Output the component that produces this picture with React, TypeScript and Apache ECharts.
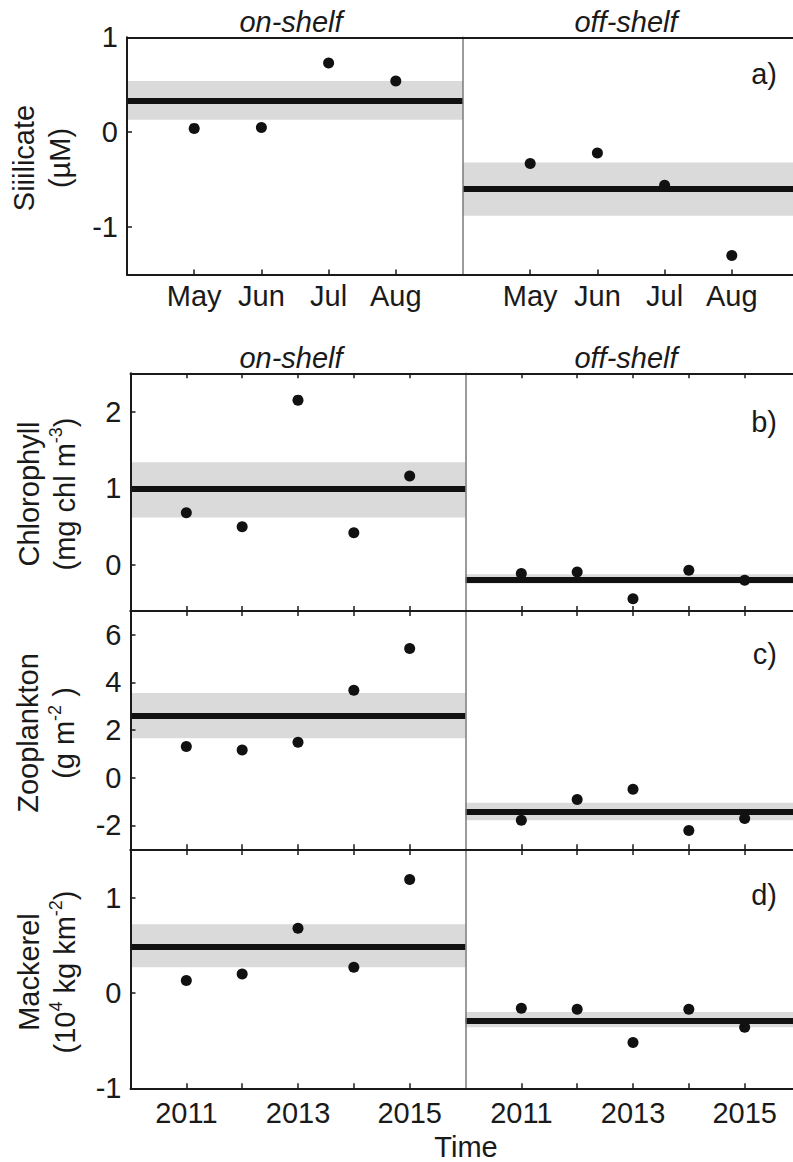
import React, { useEffect, useRef } from 'react';
import * as echarts from 'echarts';

// ---------- data ----------
const months = ['May', 'Jun', 'Jul', 'Aug'];
const monthPos = [1, 2, 3, 4];
const years = [2011, 2012, 2013, 2014, 2015];
const yearLabels = [2011, 2013, 2015];

const silicateOn = [0.04, 0.05, 0.73, 0.54];
const silicateOff = [-0.33, -0.22, -0.56, -1.30];
const silicateMean = [0.33, -0.60];
const silicateBandOn = [0.13, 0.54];
const silicateBandOff = [-0.88, -0.32];

const chlOn = [0.68, 0.50, 2.15, 0.42, 1.16];
const chlOff = [-0.11, -0.09, -0.44, -0.07, -0.20];
const chlMean = [0.99, -0.19];
const chlBandOn = [0.62, 1.34];
const chlBandOff = [-0.24, -0.12];

const zooOn = [1.31, 1.17, 1.49, 3.67, 5.43];
const zooOff = [-1.78, -0.91, -0.48, -2.21, -1.71];
const zooMean = [2.62, -1.41];
const zooBandOn = [1.66, 3.56];
const zooBandOff = [-1.78, -1.05];

const mackOn = [0.13, 0.20, 0.68, 0.27, 1.19];
const mackOff = [-0.16, -0.17, -0.52, -0.17, -0.36];
const mackMean = [0.49, -0.29];
const mackBandOn = [0.27, 0.72];
const mackBandOff = [-0.36, -0.20];

const yTicksA = [-1, 0, 1];
const yTicksB = [0, 1, 2];
const yTicksC = [-2, 0, 2, 4, 6];
const yTicksD = [-1, 0, 1];

const FONT = "'Liberation Sans', Arial, Helvetica, sans-serif";
const FS = 29;

type Panel = {
  kind: 'month' | 'year';
  left: number; width: number; top: number; height: number;
  yMin: number; yMax: number; yTicks: number[];
  on: number[]; off: number[]; mean: number[]; bandOn: number[]; bandOff: number[];
  letter: string; letterY: number;
  showX: boolean; xMargin: number;
  showTitle: boolean;
  title: string;
  titleX: number;
  titleCenter: number;
};

const panels: Panel[] = [
  { kind: 'month', left: 127, width: 336, top: 37.3, height: 237.2, yMin: -1.5, yMax: 1, yTicks: yTicksA,
    on: silicateOn, off: silicateOff, mean: silicateMean, bandOn: silicateBandOn, bandOff: silicateBandOff,
    letter: 'a)', letterY: 74, showX: true, xMargin: 7, showTitle: true,
    title: '{t|Siiilicate}\n{t|(µM)}', titleX: 42, titleCenter: 158 },
  { kind: 'year', left: 130.5, width: 335, top: 373.3, height: 237.7, yMin: -0.6, yMax: 2.5, yTicks: yTicksB,
    on: chlOn, off: chlOff, mean: chlMean, bandOn: chlBandOn, bandOff: chlBandOff,
    letter: 'b)', letterY: 422, showX: false, xMargin: 8, showTitle: true,
    title: '{t|Chlorophyll}\n{t|(mg chl m}{s|-3}{t|)}', titleX: 47, titleCenter: 494 },
  { kind: 'year', left: 130.5, width: 335, top: 611, height: 238.3, yMin: -3, yMax: 7, yTicks: yTicksC,
    on: zooOn, off: zooOff, mean: zooMean, bandOn: zooBandOn, bandOff: zooBandOff,
    letter: 'c)', letterY: 654, showX: false, xMargin: 8, showTitle: false,
    title: '{t|Zooplankton}\n{t|(g m}{s|-2}{t| )}', titleX: 46, titleCenter: 733 },
  { kind: 'year', left: 130.5, width: 335, top: 850, height: 238.3, yMin: -1, yMax: 1.5, yTicks: yTicksD,
    on: mackOn, off: mackOff, mean: mackMean, bandOn: mackBandOn, bandOff: mackBandOff,
    letter: 'd)', letterY: 895, showX: true, xMargin: 10, showTitle: false,
    title: '{t|Mackerel}\n{t|(10}{s|4}{t| kg km}{s|-2}{t|)}', titleX: 47, titleCenter: 972 },
];

export default function App() {
  const ref = useRef<HTMLDivElement>(null);

  useEffect(() => {
    if (!ref.current) return;
    const chart = echarts.init(ref.current, null, { renderer: 'svg' });

    const grids: any[] = [];
    const xAxes: any[] = [];
    const yAxes: any[] = [];
    const series: any[] = [];
    const graphics: any[] = [];

    panels.forEach((p) => {
      [0, 1].forEach((side) => {
        const gi = grids.length;
        grids.push({ left: p.left + side * p.width, top: p.top, width: p.width, height: p.height });
        const isMonth = p.kind === 'month';
        const tickVals = isMonth ? monthPos : years;
        const base = {
          type: 'value', gridIndex: gi, min: isMonth ? 0 : 2010, max: isMonth ? 5 : 2016,
          z: 10, splitLine: { show: false },
          axisLine: { onZero: false, lineStyle: { color: '#1a1a1a', width: 2 } },
        };
        xAxes.push({
          ...base, position: 'bottom',
          axisTick: { show: true, inside: true, length: 5, customValues: tickVals, lineStyle: { color: '#1a1a1a', width: 1.5 } },
          axisLabel: {
            show: p.showX, margin: p.xMargin, fontSize: FS, fontFamily: FONT, color: '#1a1a1a',
            customValues: isMonth ? monthPos : yearLabels,
            formatter: (v: number) => (isMonth ? months[monthPos.indexOf(v)] || '' : String(v)),
          },
        });
        xAxes.push({
          ...base, position: 'top',
          axisTick: { show: !isMonth, inside: true, length: 5, customValues: tickVals, lineStyle: { color: '#1a1a1a', width: 1.5 } },
          axisLabel: { show: false },
        });
        yAxes.push({
          type: 'value', gridIndex: gi, min: p.yMin, max: p.yMax, position: 'left', z: 10,
          splitLine: { show: false },
          axisLine: { onZero: false, lineStyle: { color: side === 0 ? '#1a1a1a' : '#7a7a7a', width: side === 0 ? 2 : 1.5 } },
          axisTick: { show: side === 0, inside: true, length: 5, customValues: p.yTicks, lineStyle: { color: '#1a1a1a', width: 1.5 } },
          axisLabel: { show: side === 0, customValues: p.yTicks, margin: 9, fontSize: FS, fontFamily: FONT, color: '#1a1a1a' },
        });
        const vals = side === 0 ? p.on : p.off;
        const band = side === 0 ? p.bandOn : p.bandOff;
        series.push({
          type: 'scatter', xAxisIndex: 2 * gi, yAxisIndex: gi, data: [], z: 1, silent: true,
          markArea: { silent: true, itemStyle: { color: '#dadada', opacity: 1 }, label: { show: false },
            data: [[{ yAxis: band[0] }, { yAxis: band[1] }]] },
          markLine: { silent: true, symbol: ['none', 'none'], label: { show: false },
            lineStyle: { color: '#111', width: 6, type: 'solid', opacity: 1 },
            data: [{ yAxis: p.mean[side] }] },
        });
        series.push({
          type: 'scatter', xAxisIndex: 2 * gi, yAxisIndex: gi, z: 3, silent: true,
          symbolSize: 11, itemStyle: { color: '#111', opacity: 1 },
          data: vals.map((v, i) => [tickVals[i], v]),
        });
      });

      if (p.showTitle) {
        const titleY = p.top - 15;
        graphics.push({ type: 'text', x: 291, y: titleY, style: { text: 'on-shelf', fontSize: FS, fontFamily: FONT, fontStyle: 'italic', fill: '#1a1a1a', align: 'center', verticalAlign: 'middle' } });
        graphics.push({ type: 'text', x: 626, y: titleY, style: { text: 'off-shelf', fontSize: FS, fontFamily: FONT, fontStyle: 'italic', fill: '#1a1a1a', align: 'center', verticalAlign: 'middle' } });
      }
      graphics.push({ type: 'text', x: 777, y: p.letterY, style: { text: p.letter, fontSize: FS, fontFamily: FONT, fill: '#1a1a1a', align: 'right', verticalAlign: 'middle' } });
      graphics.push({
        type: 'text', x: p.titleX, y: p.titleCenter, rotation: Math.PI / 2,
        style: {
          text: p.title, align: 'center', verticalAlign: 'middle', fill: '#1a1a1a',
          rich: {
            t: { fontSize: FS, fontFamily: FONT, lineHeight: 36, fill: '#1a1a1a' },
            s: { fontSize: 18, fontFamily: FONT, lineHeight: 36, fill: '#1a1a1a', verticalAlign: 'top' },
          },
        },
      });
    });

    graphics.push({ type: 'text', x: 466, y: 1147, style: { text: 'Time', fontSize: FS, fontFamily: FONT, fill: '#1a1a1a', align: 'center', verticalAlign: 'middle' } });

    chart.setOption({
      animation: false,
      backgroundColor: '#ffffff',
      grid: grids,
      xAxis: xAxes,
      yAxis: yAxes,
      series,
      graphic: { elements: graphics },
    });

    return () => chart.dispose();
  }, []);

  return (
    <div style={{ position: 'fixed', left: 0, top: 0, width: 793, height: 1162, overflow: 'hidden', background: '#fff' }}>
      <div ref={ref} style={{ width: 810, height: 1162 }} />
    </div>
  );
}
